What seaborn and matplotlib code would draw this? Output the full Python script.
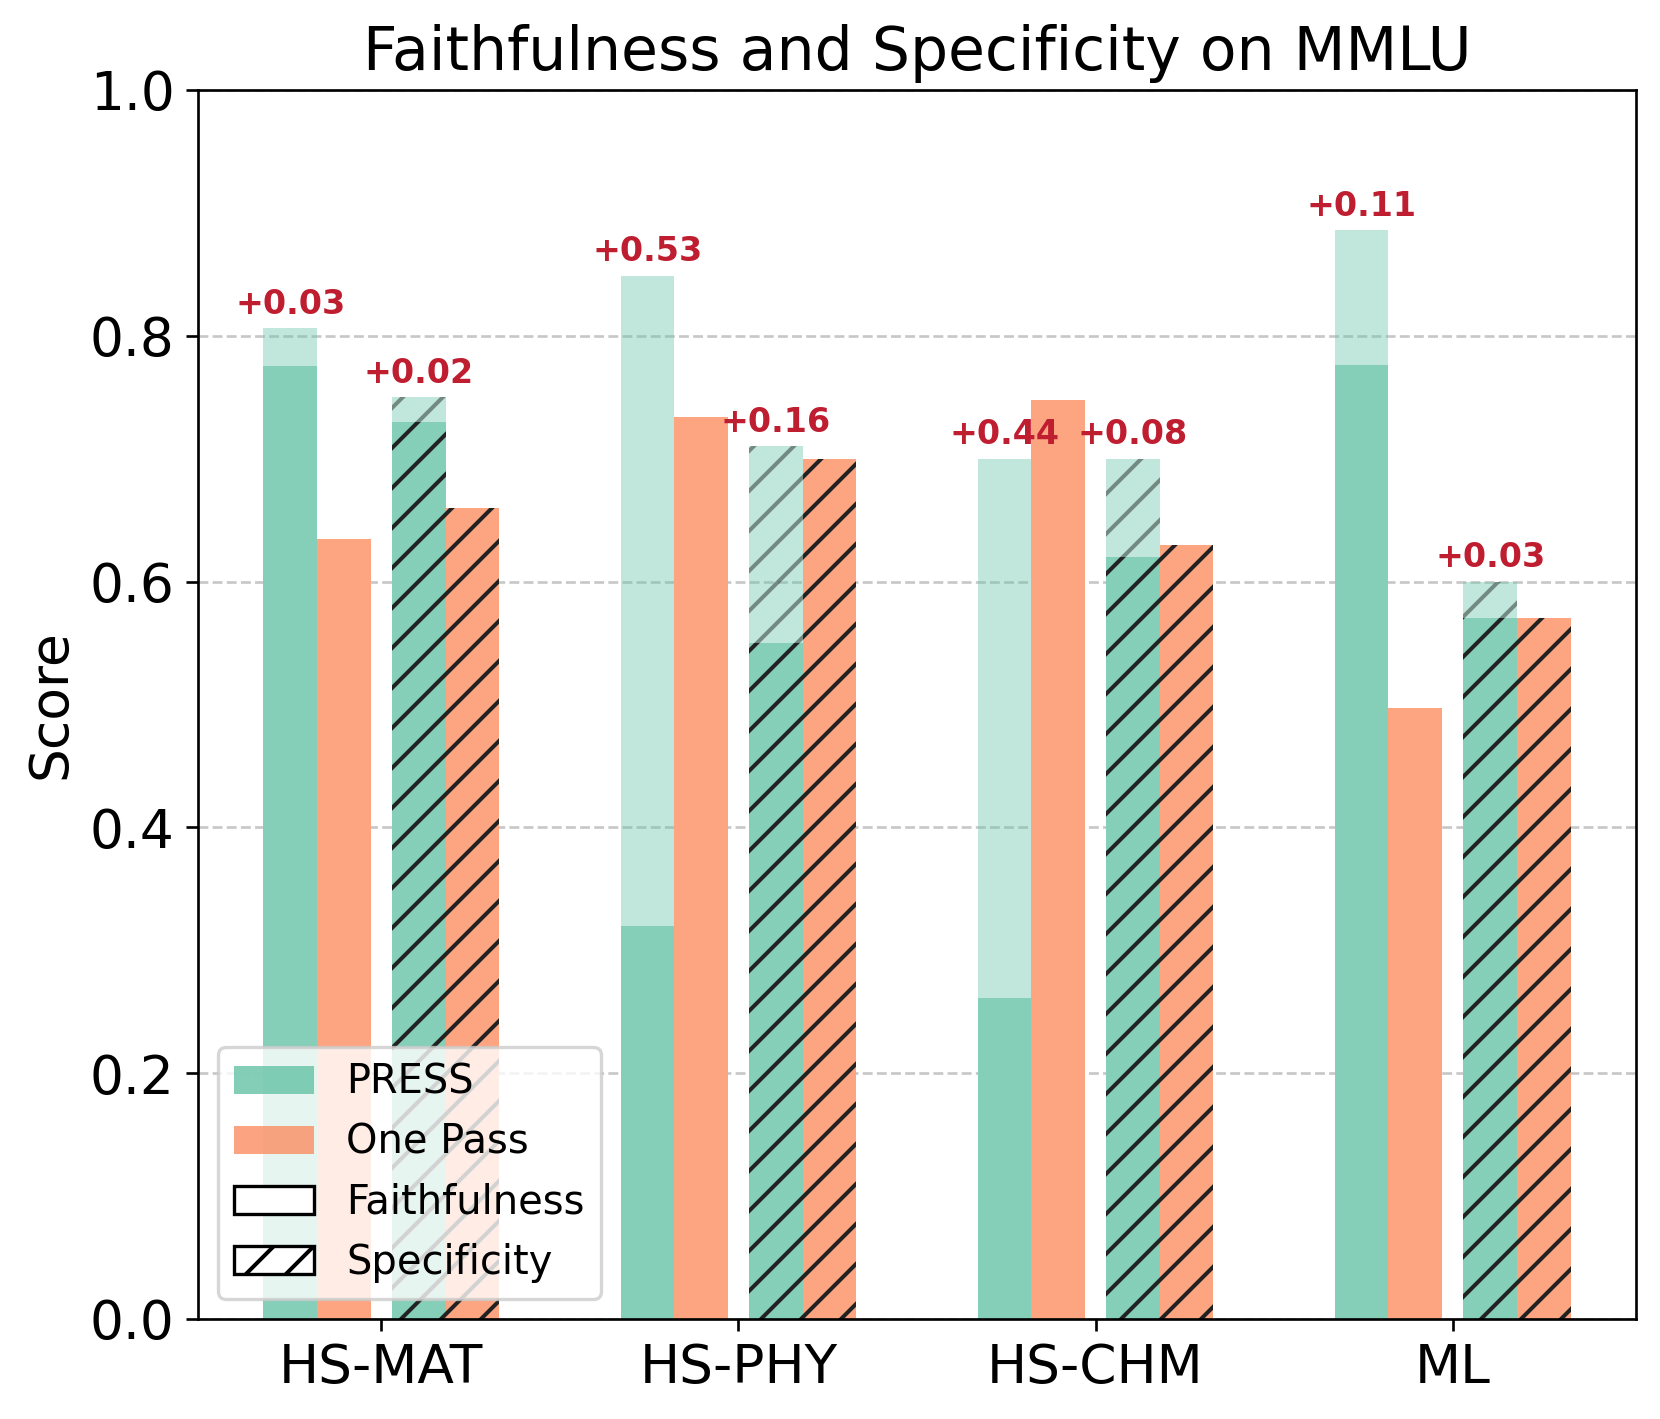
import numpy as np
import matplotlib
matplotlib.use("Agg")
import matplotlib.pyplot as plt
import matplotlib.patches as mpatches
import matplotlib.colors as mcolors
import seaborn as sns

# Data
categories = ['HS-MAT', 'HS-PHY', 'HS-CHM', 'ML']
press_faith_before = [0.775, 0.320, 0.261, 0.776]
press_faith_after = [0.806, 0.849, 0.700, 0.886]
onepass_faith = [0.635, 0.734, 0.748, 0.497]
press_spec_before = [0.730, 0.550, 0.620, 0.570]
press_spec_after = [0.750, 0.710, 0.700, 0.600]
onepass_spec = [0.660, 0.700, 0.630, 0.570]

plt.rcParams['hatch.linewidth'] = 1.2

pal = sns.color_palette('Set2')
green, orange = pal[0], pal[1]


def on_white(c, a):
    c = np.array(mcolors.to_rgb(c))
    return tuple(1 - a * (1 - c))


green_solid = on_white(green, 0.8)
orange_solid = on_white(orange, 0.8)

x = np.arange(len(categories))
w = 0.15
offsets = [-0.255, -0.105, 0.105, 0.255]

fig, ax = plt.subplots(figsize=(1660 / 240, 1419 / 240), dpi=240)
fig.subplots_adjust(left=0.1193, right=0.9855, top=0.9366, bottom=0.0705)
ax.set_axisbelow(True)
ax.grid(axis='y', linestyle='--', alpha=0.7)


def bars(pos, vals, **kw):
    sns.barplot(x=pos, y=vals, native_scale=True, width=w, errorbar=None,
                saturation=1, linewidth=0, ax=ax, **kw)


# faithfulness
bars(x + offsets[0], press_faith_after, color=green, alpha=0.4)
bars(x + offsets[0], press_faith_before, color=green_solid)
bars(x + offsets[1], onepass_faith, color=orange_solid)
# specificity
bars(x + offsets[2], press_spec_after, color=green, alpha=0.4,
     hatch='//', edgecolor='black')
bars(x + offsets[2], press_spec_before, color=green_solid,
     hatch='//', edgecolor='#222222')
bars(x + offsets[3], onepass_spec, color=orange_solid,
     hatch='//', edgecolor='#222222')

# improvement labels
red = '#be1e30'
for i in range(len(categories)):
    d1 = press_faith_after[i] - press_faith_before[i]
    ax.text(x[i] + offsets[0], press_faith_after[i] + 0.006, f'+{d1:.2f}',
            ha='center', va='bottom', color=red, fontsize=10, fontweight='bold')
    d2 = press_spec_after[i] - press_spec_before[i]
    ax.text(x[i] + offsets[2], press_spec_after[i] + 0.006, f'+{d2:.2f}',
            ha='center', va='bottom', color=red, fontsize=10, fontweight='bold')

ax.set_xlim(-0.513, 3.513)
ax.set_ylim(0, 1.0)
ax.set_xticks(x)
ax.set_xticklabels(categories)
ax.tick_params(axis='both', labelsize=16)
ax.set_xlabel('')
ax.set_ylabel('Score', fontsize=16)
ax.set_title('Faithfulness and Specificity on MMLU', fontsize=18)

handles = [
    mpatches.Patch(facecolor=green, alpha=0.8, label='PRESS'),
    mpatches.Patch(facecolor=orange, alpha=0.8, label='One Pass'),
    mpatches.Patch(facecolor='white', edgecolor='black', label='Faithfulness'),
    mpatches.Patch(facecolor='white', edgecolor='black', hatch='//', label='Specificity'),
]
ax.legend(handles=handles, loc='lower left', fontsize=12)

fig.savefig('out.png', dpi=240)
